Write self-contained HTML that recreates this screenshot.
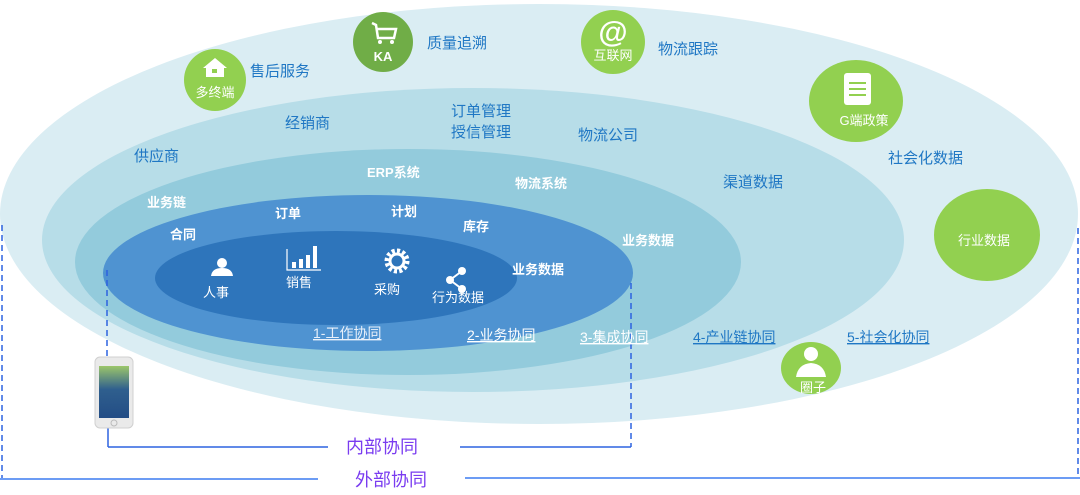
<!DOCTYPE html>
<html><head><meta charset="utf-8"><style>
html,body{margin:0;padding:0;background:#fff;}
svg{display:block;font-family:"Liberation Sans","Noto Sans CJK SC",sans-serif;}
.b{fill:#1f77c4;font-size:15px;}
.w{fill:#fff;font-size:13px;font-weight:bold;}
.ww{fill:#fff;font-size:13px;}
.u{font-size:14px;text-decoration:underline;}
</style></head><body>
<svg width="1080" height="495" viewBox="0 0 1080 495" xmlns="http://www.w3.org/2000/svg">
<ellipse cx="539" cy="214" rx="539" ry="210" fill="#daedf3"/>
<ellipse cx="473" cy="240" rx="431" ry="152" fill="#b7dde8"/>
<ellipse cx="408" cy="262" rx="333" ry="113" fill="#93cbdc"/>
<ellipse cx="368" cy="273" rx="265" ry="78" fill="#4f93d1"/>
<ellipse cx="336" cy="278" rx="181" ry="47" fill="#2e75bb"/>

<!-- dashed / connectors -->
<g stroke="#2d63e0" stroke-width="1.5" fill="none">
<line x1="2" y1="225" x2="2" y2="478" stroke-dasharray="6,4"/>
<line x1="1078" y1="228" x2="1078" y2="478" stroke-dasharray="6,4"/>
<line x1="0" y1="479" x2="318" y2="479" stroke="#3b7cf0"/>
<line x1="465" y1="478" x2="1080" y2="478" stroke="#3b7cf0"/>
<line x1="107" y1="270" x2="107" y2="360" stroke-dasharray="6,4"/>
<line x1="108" y1="428" x2="108" y2="447"/>
<line x1="108" y1="447" x2="328" y2="447"/>
<line x1="460" y1="447" x2="631" y2="447"/>
<line x1="631" y1="283" x2="631" y2="447" stroke-dasharray="6,4"/>
</g>
<text x="346" y="453" font-size="18" fill="#7a3cf0">内部协同</text>
<text x="355" y="486" font-size="18" fill="#7a3cf0">外部协同</text>

<!-- phone -->
<rect x="95" y="357" width="38" height="71" rx="5" fill="#eaeaea" stroke="#d0d0d0"/>
<defs><linearGradient id="g" x1="0" y1="0" x2="0" y2="1"><stop offset="0" stop-color="#9cc66a"/><stop offset="0.45" stop-color="#2f5f8e"/><stop offset="1" stop-color="#234d85"/></linearGradient></defs>
<rect x="99" y="366" width="30" height="52" fill="url(#g)"/>
<circle cx="114" cy="423" r="3" fill="none" stroke="#bbb"/>

<!-- green circles -->
<circle cx="215" cy="80" r="31" fill="#92d050"/>
<path d="M203 68 L215 58 L227 68 L224 68 L224 77 L206 77 L206 68 Z" fill="#fff"/>
<rect x="212" y="69" width="5" height="4" fill="#92d050"/>
<text x="215" y="97" text-anchor="middle" class="ww" font-size="12">多终端</text>
<circle cx="383" cy="42" r="30" fill="#70ad47"/>
<path d="M372 23 L376 25 L378 38 L394 38 L396 29 L377 29" fill="none" stroke="#fff" stroke-width="2.5"/>
<circle cx="380" cy="42" r="2" fill="#fff"/><circle cx="392" cy="42" r="2" fill="#fff"/>
<text x="383" y="61" text-anchor="middle" fill="#fff" font-size="13" font-weight="bold">KA</text>
<circle cx="613" cy="42" r="32" fill="#92d050"/>
<text x="613" y="42" text-anchor="middle" fill="#fff" font-size="30" font-weight="bold">@</text>
<text x="613" y="60" text-anchor="middle" class="ww" font-size="12">互联网</text>
<ellipse cx="856" cy="101" rx="47" ry="41" fill="#92d050"/>
<rect x="844" y="73" width="27" height="32" rx="3" fill="#fff"/>
<g stroke="#92d050" stroke-width="2"><line x1="849" y1="83" x2="866" y2="83"/><line x1="849" y1="89" x2="866" y2="89"/><line x1="849" y1="95" x2="866" y2="95"/></g>
<text x="864" y="125" text-anchor="middle" class="ww">G端政策</text>
<ellipse cx="987" cy="235" rx="53" ry="46" fill="#92d050"/>
<text x="984" y="245" text-anchor="middle" class="ww">行业数据</text>
<ellipse cx="811" cy="368" rx="30" ry="26" fill="#92d050"/>
<circle cx="811" cy="354" r="7" fill="#fff"/>
<path d="M796 377 Q798 364 811 363 Q824 364 826 377 Z" fill="#fff"/>
<text x="813" y="392" text-anchor="middle" class="ww">圈子</text>

<!-- outer labels -->
<text x="250" y="76" class="b" font-size="17">售后服务</text>
<text x="427" y="48" class="b" font-size="16">质量追溯</text>
<text x="658" y="54" class="b" font-size="17">物流跟踪</text>
<text x="888" y="163" class="b" font-size="17">社会化数据</text>
<text x="285" y="128" class="b">经销商</text>
<text x="451" y="116" class="b">订单管理</text>
<text x="451" y="137" class="b">授信管理</text>
<text x="578" y="140" class="b">物流公司</text>
<text x="134" y="161" class="b">供应商</text>
<text x="723" y="187" class="b">渠道数据</text>

<text x="367" y="177" class="w">ERP系统</text>
<text x="515" y="188" class="w">物流系统</text>
<text x="147" y="207" class="w">业务链</text>
<text x="622" y="245" class="w">业务数据</text>
<text x="275" y="218" class="w">订单</text>
<text x="391" y="216" class="w">计划</text>
<text x="463" y="231" class="w">库存</text>
<text x="170" y="239" class="w">合同</text>
<text x="512" y="274" class="w">业务数据</text>

<!-- inner icons -->
<circle cx="222" cy="263" r="5" fill="#fff"/>
<path d="M211 276 Q212 268 222 268 Q232 268 233 276 Z" fill="#fff"/>
<text x="216" y="297" text-anchor="middle" class="ww" font-weight="normal">人事</text>
<path d="M287 249 L287 270 L321 270" fill="none" stroke="#fff" stroke-width="1.2"/>
<rect x="292" y="262" width="4" height="6" fill="#fff"/><rect x="299" y="259" width="4" height="9" fill="#fff"/><rect x="306" y="255" width="4" height="13" fill="#fff"/><rect x="313" y="246" width="4" height="22" fill="#fff"/>
<text x="299" y="287" text-anchor="middle" class="ww">销售</text>
<circle cx="397" cy="261" r="10" fill="none" stroke="#fff" stroke-width="5" stroke-dasharray="3,2.2"/>
<circle cx="397" cy="261" r="7" fill="none" stroke="#fff" stroke-width="3"/>
<text x="387" y="294" text-anchor="middle" class="ww">采购</text>
<g fill="#fff"><circle cx="450" cy="280" r="4"/><circle cx="462" cy="271" r="4"/><circle cx="462" cy="289" r="4"/></g>
<path d="M450 280 L462 271 M450 280 L462 289" stroke="#fff" stroke-width="2"/>
<text x="458" y="302" text-anchor="middle" class="ww">行为数据</text>

<text x="313" y="338" class="u" fill="#e8f0fa">1-工作协同</text>
<text x="467" y="340" class="u" fill="#fff">2-业务协同</text>
<text x="580" y="342" class="u" fill="#fff">3-集成协同</text>
<text x="693" y="342" class="u" fill="#1f77c4" font-size="15">4-产业链协同</text>
<text x="847" y="342" class="u" fill="#1f77c4" font-size="15">5-社会化协同</text>
</svg>
</body></html>
